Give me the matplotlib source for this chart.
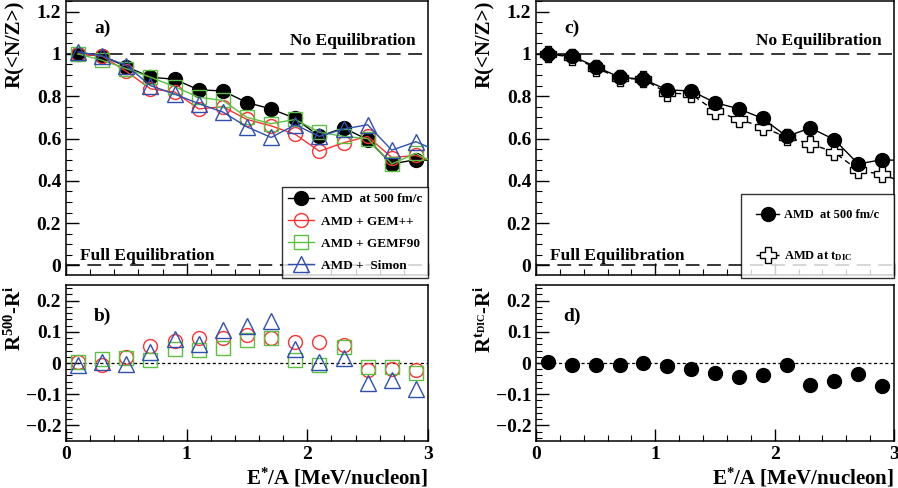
import numpy as np
import matplotlib
matplotlib.use("Agg")
from matplotlib import pyplot as plt
from matplotlib.ticker import MultipleLocator

plt.rcParams['font.family'] = 'Liberation Serif'
plt.rcParams['font.weight'] = 'bold'
plt.rcParams['mathtext.fontset'] = 'custom'
plt.rcParams['mathtext.rm'] = 'Liberation Serif:bold'
plt.rcParams['mathtext.it'] = 'Liberation Serif:bold'
plt.rcParams['mathtext.bf'] = 'Liberation Serif:bold'

# energia de excitacao (o ultimo ponto fica fora do eixo, so para a linha)
energia = [0.1, 0.3, 0.5, 0.7, 0.9, 1.1, 1.3, 1.5, 1.7, 1.9, 2.1, 2.3, 2.5, 2.7, 2.9, 3.1]

# painel a / c
amd500 = [1.0, 0.99, 0.94, 0.89, 0.88, 0.83, 0.825, 0.77, 0.74, 0.695, 0.61, 0.65, 0.595, 0.48, 0.50, 0.495]
gempp = [1.0, 0.99, 0.917, 0.835, 0.82, 0.74, 0.75, 0.69, 0.66, 0.62, 0.54, 0.58, 0.61, 0.51, 0.52, 0.48]
gemf90 = [1.0, 0.97, 0.93, 0.89, 0.845, 0.795, 0.78, 0.70, 0.67, 0.69, 0.63, 0.61, 0.60, 0.48, 0.53, 0.47]
simon = [1.01, 0.99, 0.945, 0.85, 0.81, 0.765, 0.725, 0.655, 0.605, 0.665, 0.61, 0.645, 0.665, 0.545, 0.585, 0.535]
amd_tdic = [1.0, 0.985, 0.935, 0.885, 0.88, 0.815, 0.81, 0.73, 0.69, 0.655, 0.605, 0.575, 0.535, 0.45, 0.43, 0.39]

# painel b
dif_gempp = [0.002, -0.008, 0.02, 0.053, 0.07, 0.08, 0.08, 0.09, 0.08, 0.068, 0.067, 0.058, -0.024, -0.019, -0.022]
dif_gemf90 = [0.002, 0.013, 0.015, 0.01, 0.044, 0.041, 0.047, 0.073, 0.079, 0.011, -0.006, 0.05, -0.012, -0.012, -0.033]
dif_simon = [-0.008, 0.004, -0.003, 0.034, 0.076, 0.06, 0.107, 0.118, 0.134, 0.044, 0.002, 0.015, -0.064, -0.056, -0.082]

# painel d
dif_tdic = [0.002, -0.005, -0.007, -0.005, -0.001, -0.01, -0.018, -0.033, -0.046, -0.038, -0.007, -0.072, -0.058, -0.034, -0.075]

vermelho = '#ff3030'
verde = '#5cc040'
azul = '#3050b0'

fig = plt.figure(figsize=(8.98, 4.88), dpi=100)
axA = fig.add_axes([66 / 898, 1 - 275 / 488, 362 / 898, 274 / 488])
axB = fig.add_axes([66 / 898, 1 - 441 / 488, 362 / 898, 156 / 488])
axC = fig.add_axes([536 / 898, 1 - 275 / 488, 358 / 898, 274 / 488])
axD = fig.add_axes([536 / 898, 1 - 441 / 488, 358 / 898, 156 / 488])


def estilo(ax, topo):
    ax.set_xlim(0, 3)
    ax.xaxis.set_major_locator(MultipleLocator(1))
    ax.xaxis.set_minor_locator(MultipleLocator(0.2))
    if topo:
        ax.set_ylim(-0.045, 1.25)
        ax.yaxis.set_major_locator(MultipleLocator(0.2))
        ax.yaxis.set_minor_locator(MultipleLocator(0.05))
        ax.set_xticklabels([])
    else:
        ax.set_ylim(-0.25, 0.25)
        ax.yaxis.set_major_locator(MultipleLocator(0.1))
        ax.yaxis.set_minor_locator(MultipleLocator(0.02))
    ax.tick_params(which='both', direction='in', labelsize=14)
    ax.tick_params(which='major', length=9, width=1)
    ax.tick_params(which='minor', length=4.5, width=0.8)
    for s in ax.spines.values():
        s.set_linewidth(1.1)
    for lab in ax.get_xticklabels() + ax.get_yticklabels():
        lab.set_fontweight('bold')


def fmt(v, pos):
    if abs(v) < 1e-9:
        return '0'
    s = ('%.1f' % v).replace('-', '\u2212')
    if s in ('1.0', '2.0', '3.0'):
        return s[0]
    return s


for ax in (axA, axB, axC, axD):
    ax.xaxis.set_major_formatter(plt.FuncFormatter(fmt))
    ax.yaxis.set_major_formatter(plt.FuncFormatter(fmt))

# --- painel a
for ax in (axA, axC):
    ax.axhline(1, color='black', ls=(0, (9, 5)), lw=1.1)
    ax.axhline(0, color='black', ls=(0, (9, 5)), lw=1.1)
    ax.text(2.9, 1.06, 'No Equilibration', ha='right', va='center', fontsize=12.5, fontweight='bold')
    ax.text(0.12, 0.045, 'Full Equilibration', ha='left', va='center', fontsize=12.5, fontweight='bold')

axA.plot(energia, amd500, color='black', marker='o', ms=10, lw=1, label='AMD  at 500 fm/c', zorder=5)
axA.plot(energia, gempp, color=vermelho, marker='o', ms=10, mfc='none', mew=1, lw=1, label='AMD + GEM++', zorder=6)
axA.plot(energia, gemf90, color=verde, marker='s', ms=10, mfc='none', mew=1, lw=1, label='AMD + GEMF90', zorder=6)
axA.plot(energia, simon, color=azul, marker='^', ms=11, mfc='none', mew=1, lw=1, label='AMD +  Simon', zorder=7)
leg = axA.legend(loc='lower right', bbox_to_anchor=(1.0, -0.01), fontsize=9.5, frameon=True, fancybox=False,
                 edgecolor='black', handlelength=2.0, borderpad=0.45, labelspacing=0.75, handletextpad=0.5,
                 borderaxespad=0.0)
leg.get_frame().set_linewidth(1)
axA.text(0.3, 1.12, 'a)', ha='center', va='center', fontsize=14, fontweight='bold')

# --- painel b
n = len(dif_gempp)
axB.axhline(0, color='black', ls=(0, (2.5, 2)), lw=0.9)
axB.plot(energia[:n], dif_gempp, ls='none', color=vermelho, marker='o', ms=10, mfc='none', mew=1)
axB.plot(energia[:n], dif_gemf90, ls='none', color=verde, marker='s', ms=10, mfc='none', mew=1)
axB.plot(energia[:n], dif_simon, ls='none', color=azul, marker='^', ms=11, mfc='none', mew=1)
axB.text(0.3, 0.15, 'b)', ha='center', va='center', fontsize=14, fontweight='bold')

# --- painel c
axC.plot(energia, amd500, color='black', marker='o', ms=10, lw=1, label='AMD  at 500 fm/c', zorder=6)
axC.plot(energia, amd_tdic, color='black', marker='P', ms=11, mfc='white', mew=1, lw=1, ls=(0, (4, 3)),
         label='AMD at t$_{\\rm DIC}$', zorder=5)
leg = axC.legend(loc='lower right', bbox_to_anchor=(1.0, -0.01), fontsize=9, frameon=True, fancybox=False,
                 edgecolor='black', handlelength=1.8, borderpad=1.2, labelspacing=2.2, handletextpad=0.4,
                 borderaxespad=0.0)
leg.get_frame().set_linewidth(1)
axC.text(0.3, 1.12, 'c)', ha='center', va='center', fontsize=14, fontweight='bold')

# --- painel d
axD.axhline(0, color='black', ls=(0, (2.5, 2)), lw=0.9)
axD.plot(energia[:n], dif_tdic, ls='none', color='black', marker='o', ms=10)
axD.text(0.3, 0.15, 'd)', ha='center', va='center', fontsize=14, fontweight='bold')

for ax, topo in ((axA, True), (axB, False), (axC, True), (axD, False)):
    estilo(ax, topo)

axA.set_ylabel('R(<N/Z>)', fontsize=15, fontweight='bold', loc='top', labelpad=8)
axC.set_ylabel('R(<N/Z>)', fontsize=15, fontweight='bold', loc='top', labelpad=8)
axB.set_ylabel('R$^{500}$-R$^{i}$', fontsize=15, fontweight='bold', loc='top', labelpad=0)
axD.set_ylabel('R$^{t_{DIC}}$-R$^{i}$', fontsize=15, fontweight='bold', loc='top', labelpad=0)
axB.set_xlabel('E$^{*}$/A [MeV/nucleon]', fontsize=15, fontweight='bold', loc='right', labelpad=2)
axD.set_xlabel('E$^{*}$/A [MeV/nucleon]', fontsize=15, fontweight='bold', loc='right', labelpad=2)

fig.savefig('out.png', dpi=100)
